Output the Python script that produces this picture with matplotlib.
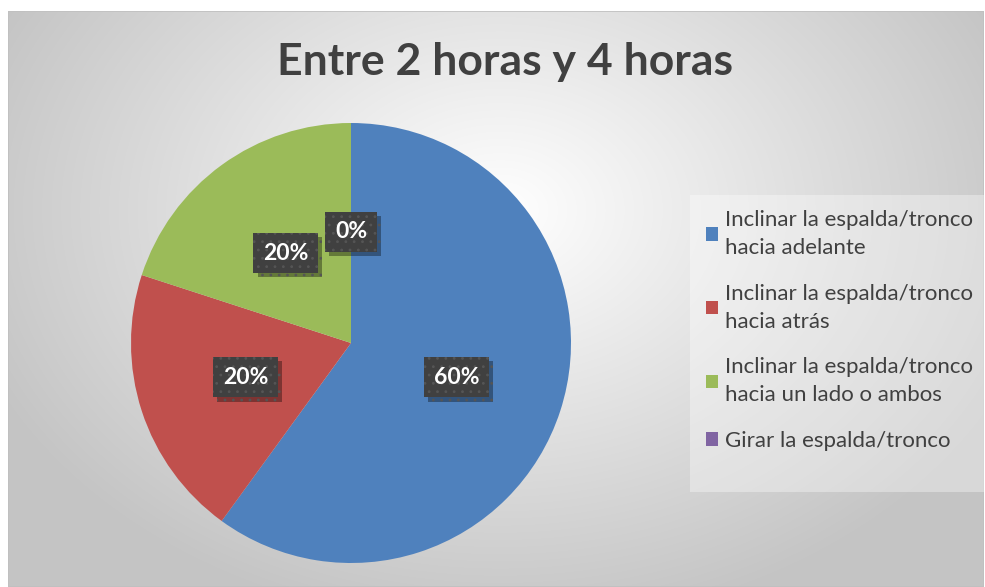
import numpy as np
import matplotlib
matplotlib.use("Agg")
import matplotlib.pyplot as plt
from matplotlib.patches import Rectangle, Patch
import matplotlib.patheffects as pe

title = "Entre 2 horas y 4 horas"
categories = [
    "Inclinar la espalda/tronco\nhacia adelante",
    "Inclinar la espalda/tronco\nhacia atrás",
    "Inclinar la espalda/tronco\nhacia un lado o ambos",
    "Girar la espalda/tronco",
]
values = [60, 20, 20, 0]
colors = ["#4F81BD", "#C0504D", "#9BBB59", "#8064A2"]

plt.rcParams["hatch.color"] = "#555555"
plt.rcParams["hatch.linewidth"] = 0.8

W, H = 985, 587
fig = plt.figure(figsize=(W / 100, H / 100), dpi=100)
fig.patch.set_facecolor("white")

# background radial gradient
bg = fig.add_axes([8 / W, 0, (984 - 8) / W, (H - 11) / H], zorder=0)
bg.set_axis_off()
yy, xx = np.mgrid[11:587, 8:984]
d = np.sqrt(((xx - 500) / 560.0) ** 2 + ((yy - 210) / 420.0) ** 2)
v = np.clip(1.0 - 0.23 * d, 0.77, 1.0)
img = np.dstack([v, v, v])
bg.imshow(img, aspect="auto", extent=[0, 1, 0, 1], origin="upper")
bg.set_xlim(0, 1)
bg.set_ylim(0, 1)
bg.add_patch(Rectangle((0, 0), 1, 1, transform=bg.transAxes, fill=False,
                       edgecolor="#c0c0c0", lw=1.2))

# legend background
fig.patches.append(Rectangle((690 / W, 1 - 492 / H), (984 - 690) / W, (492 - 195) / H,
                             transform=fig.transFigure, facecolor="white", alpha=0.35,
                             edgecolor="none", zorder=1))

ax = fig.add_axes([131 / W, (H - 563) / H, 440 / W, 440 / H], zorder=2)
wedges, texts, autotexts = ax.pie(
    values, colors=colors, startangle=90, counterclock=False,
    autopct=lambda p: f"{p:.0f}%", pctdistance=0.505, radius=1.0,
    wedgeprops=dict(linewidth=0),
    textprops=dict(color="white", fontsize=16.5, fontweight="bold", family="Lato"),
)
ax.set_xlim(-1, 1)
ax.set_ylim(-1, 1)
ax.set_aspect("equal")
for t in autotexts:
    t.set_bbox(dict(boxstyle="square,pad=0.42", facecolor="#404040", edgecolor="#555555",
                    hatch="..", linewidth=0))
    t.get_bbox_patch().set_path_effects([
        pe.SimplePatchShadow(offset=(3, -3), shadow_rgbFace="black", alpha=0.35),
        pe.Normal(),
    ])

fig.text(505 / W, 1 - 62 / H, title, ha="center", va="center", fontsize=32,
         fontweight="bold", family="Lato", color="#404040")

handles = [Patch(facecolor=c, edgecolor="none") for c in colors]
leg = fig.legend(handles, categories, loc="upper left", bbox_to_anchor=(686 / W, 1 - 190 / H),
                 frameon=False, prop=dict(family="Lato", size=16), labelcolor="#404040",
                 handlelength=0.55, handleheight=0.55, handletextpad=0.3, labelspacing=1.15,
                 borderpad=0.4)
for t in leg.get_texts():
    t.set_linespacing(1.5)

fig.savefig("out.png", dpi=100)
